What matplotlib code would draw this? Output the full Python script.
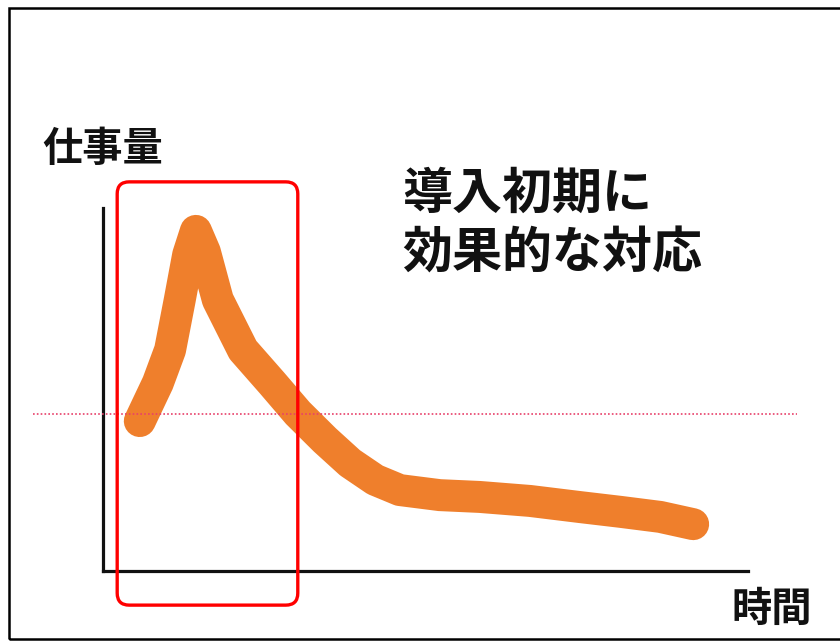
import numpy as np
import matplotlib.pyplot as plt
from matplotlib.patches import FancyBboxPatch, Rectangle

plt.rcParams['font.family'] = ['Noto Sans CJK JP', 'DejaVu Sans']

# Work load over time (schematic, both axes 0-100)
time = [5.7, 8.5, 10.4, 11.9, 13.2, 14.4, 15.8, 17.8, 21.7, 26.2, 30.2, 34.4,
        38.3, 42.2, 46.0, 52.2, 58.4, 66.2, 74.0, 80.2, 86.4, 91.5]
workload = [41.3, 51.8, 60.9, 74.7, 87.1, 93.7, 87.9, 74.7, 60.9, 51.8, 43.5, 36.1,
            29.8, 25.1, 22.3, 20.9, 20.4, 19.3, 17.6, 16.3, 14.9, 12.9]
baseline = 43.3            # dotted reference level
early_phase = (2.2, 30.2)  # highlighted period (time)
highlight_y = (-9.4, 107.2)

y_label = '仕事量'
x_label = '時間'
note = '導入初期に\n効果的な対応'

W, H = 840, 642
fig = plt.figure(figsize=(W / 100, H / 100), dpi=100)
fig.patch.set_facecolor('white')

# outer frame
fig.patches.append(Rectangle((9 / W, 3 / H), 1.0, 631 / H, transform=fig.transFigure,
                             fill=False, edgecolor='black', linewidth=1.8))

ax = fig.add_axes([103 / W, (H - 571) / H, 645 / W, 363 / H])
ax.set_xlim(0, 100)
ax.set_ylim(0, 100)
for s in ['top', 'right']:
    ax.spines[s].set_visible(False)
for s in ['left', 'bottom']:
    ax.spines[s].set_linewidth(2.3)
    ax.spines[s].set_color('#111111')
ax.set_xticks([])
ax.set_yticks([])
ax.patch.set_alpha(0)

ax.plot(time, workload, color='#EF7F2C', linewidth=23,
        solid_capstyle='round', solid_joinstyle='round', clip_on=False, zorder=2)

ax.axhline(baseline, xmin=-0.109, xmax=1.076, color='#E8406A', linewidth=1.2,
           linestyle=(0, (1, 1.3)), clip_on=False, zorder=3)

# rounded highlight box (corrected for unequal x/y scales)
px_x = 645 / 100
px_y = 363 / 100
box = FancyBboxPatch((early_phase[0], highlight_y[0]),
                     early_phase[1] - early_phase[0], highlight_y[1] - highlight_y[0],
                     boxstyle='round,pad=0,rounding_size=%f' % (12 / px_x),
                     mutation_aspect=px_x / px_y,
                     fill=False, edgecolor='#FF0000', linewidth=2.4,
                     clip_on=False, zorder=4)
ax.add_patch(box)

ax.text(0.0, 1.16, y_label, transform=ax.transAxes, ha='center', va='center',
        fontsize=29, fontweight='bold', color='#111111')
ax.text(1.037, -0.107, x_label, transform=ax.transAxes, ha='center', va='center',
        fontsize=29, fontweight='bold', color='#111111')
ax.text(0.4636, 0.955, note, transform=ax.transAxes, ha='left', va='center',
        fontsize=36, fontweight='bold', color='#111111', linespacing=1.22)

fig.savefig('out.png', dpi=100)
